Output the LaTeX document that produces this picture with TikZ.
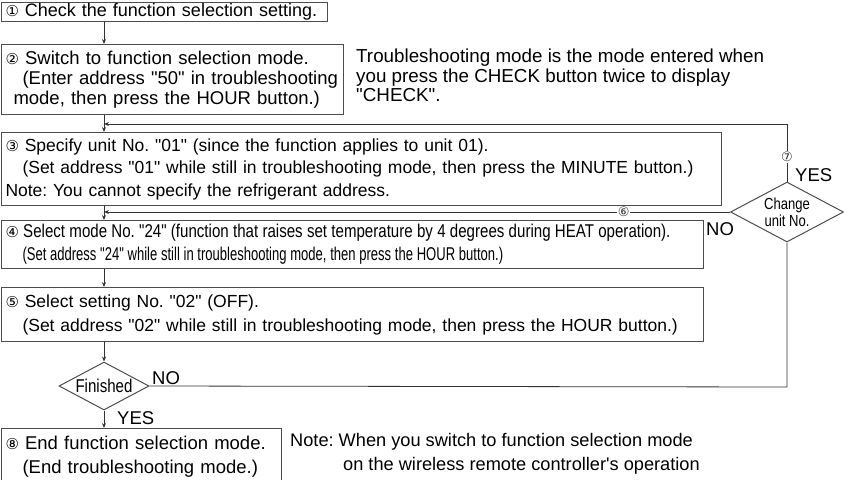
\documentclass[tikz,border=0pt]{standalone}
\usepackage{fontspec}
\setmainfont{Liberation Sans}[Ligatures=TeXOff]
\newfontfamily\circfont{DejaVu Sans}
\newfontfamily\narrowfont[FakeStretch=0.815]{Liberation Sans}
\newfontfamily\narrowerfont[FakeStretch=0.705]{Liberation Sans}
\usetikzlibrary{shapes.geometric,arrows.meta}

\newcommand{\cnum}[1]{{\circfont\fontsize{15}{15}\selectfont #1}}
\newcommand{\tightsp}[1]{\spaceskip=#1\relax}
\frenchspacing

\begin{document}
\begin{tikzpicture}[
    x=1pt, y=-1pt,
    box/.style={rectangle, draw=black!70, line width=1pt, anchor=north west,
                inner xsep=4pt, inner ysep=0pt, align=left,
                font=\fontsize{17.5}{22.5}\selectfont},
    nar/.style={font=\narrowfont\fontsize{18.5}{23}\selectfont},
    dia/.style={diamond, draw=black!70, line width=1pt, inner sep=0pt,
                align=center, aspect=1.9},
    lbl/.style={inner sep=0pt, font=\fontsize{18.5}{19.5}\selectfont},
    arr/.style={-{Stealth[length=5pt,width=4pt]}, line width=0.8pt, black!80},
    lin/.style={line width=0.8pt, black!80},
    num/.style={fill=white, inner sep=1pt, font=\circfont\fontsize{13}{13}\selectfont},
]
\useasboundingbox (0,0) rectangle (850,479);
\clip (0,0) rectangle (850,479);

% steps
\node[box, text width=318pt, minimum height=19pt,
      font=\fontsize{18}{20}\selectfont] (b1) at (1,2)
  {\cnum{①} Check the function selection setting.};
\node[box, text width=334pt, minimum height=70pt,
      font=\fontsize{18.5}{20}\selectfont] (b2) at (1,44)
  {\cnum{②} Switch to function selection mode.\\
   \hspace*{17pt}(Enter address "50" in troubleshooting\\
   \hspace*{8pt}mode, then press the HOUR button.)};
\node[box, text width=712pt, minimum height=73pt] (b3) at (1,132)
  {\cnum{③} Specify unit No. "01" (since the function applies to unit 01).\\
   \hspace*{17pt}(Set address "01" while still in troubleshooting mode, then press the MINUTE button.)\\
   Note: You cannot specify the refrigerant address.};
\node[box, nar, text width=694pt, minimum height=48pt] (b4) at (1,220)
  {\tightsp{4.3pt}\cnum{④} Select mode No. "24" (function that raises set temperature by 4 degrees during HEAT operation).\\
   \hspace*{17pt}{\narrowerfont\tightsp{3.7pt}(Set address "24" while still in troubleshooting mode, then press the HOUR button.)}};
\node[box, text width=694pt, minimum height=54pt,
      font=\fontsize{17.5}{24}\selectfont] (b5) at (1,287)
  {\cnum{⑤} Select setting No. "02" (OFF).\\
   \hspace*{17pt}(Set address "02" while still in troubleshooting mode, then press the HOUR button.)};
\node[box, text width=272pt, minimum height=56pt,
      font=\fontsize{18.5}{24}\selectfont] (b8) at (1,428)
  {\cnum{⑧} End function selection mode.\\
   \hspace*{17pt}(End troubleshooting mode.)};

% decisions
\node[dia, minimum width=113pt, minimum height=60pt,
      font=\narrowfont\fontsize{16}{17}\selectfont] (chg) at (787,212)
  {Change\\unit No.};
\node[dia, minimum width=90pt, minimum height=48pt,
      font=\narrowfont\fontsize{18.5}{18.5}\selectfont] (fin) at (104,386)
  {Finished};

% notes
\node[lbl, anchor=north west, align=left,
      font=\fontsize{18.8}{19.5}\selectfont] (tnote) at (356,49)
  {Troubleshooting mode is the mode entered when\\
   you press the CHECK button twice to display\\
   "CHECK".};
\node[lbl, anchor=north west, align=left,
      font=\fontsize{18.2}{24}\selectfont] (enote) at (290,433)
  {Note: When you switch to function selection mode\\
   \hspace*{53pt}on the wireless remote controller's operation};

\coordinate (j1) at (104,124);
\coordinate (j2) at (104,212);
\coordinate (c1) at (787,124);
\coordinate (c2) at (787,387);

% flow
\draw[arr] (b1.south -| j1) -- (b2.north -| j1);
\draw[arr] (b2.south -| j1) -- (b3.north -| j1);
\draw[arr] (b3.south -| j1) -- (b4.north -| j1);
\draw[arr] (b4.south -| j1) -- (b5.north -| j1);
\draw[arr] (b5.south -| j1) -- (fin.north);
\draw[arr] (fin.south) -- (b8.north -| fin.south);
\draw[lin] (fin.east) -- (c2) -- (chg.south);
\draw[arr] (chg.north) -- node[num, pos=0.43] {⑦} (c1) -- (j1);
\draw[arr] (chg.west) -- node[num, pos=0.17] {⑥} (j2);

% answers
\node[lbl, anchor=west] (y1) at (795,175) {YES};
\node[lbl, anchor=west] (n1) at (706,229) {NO};
\node[lbl, anchor=west] (n2) at (152,378) {NO};
\node[lbl, anchor=west] (y2) at (117,418) {YES};
\end{tikzpicture}
\end{document}
